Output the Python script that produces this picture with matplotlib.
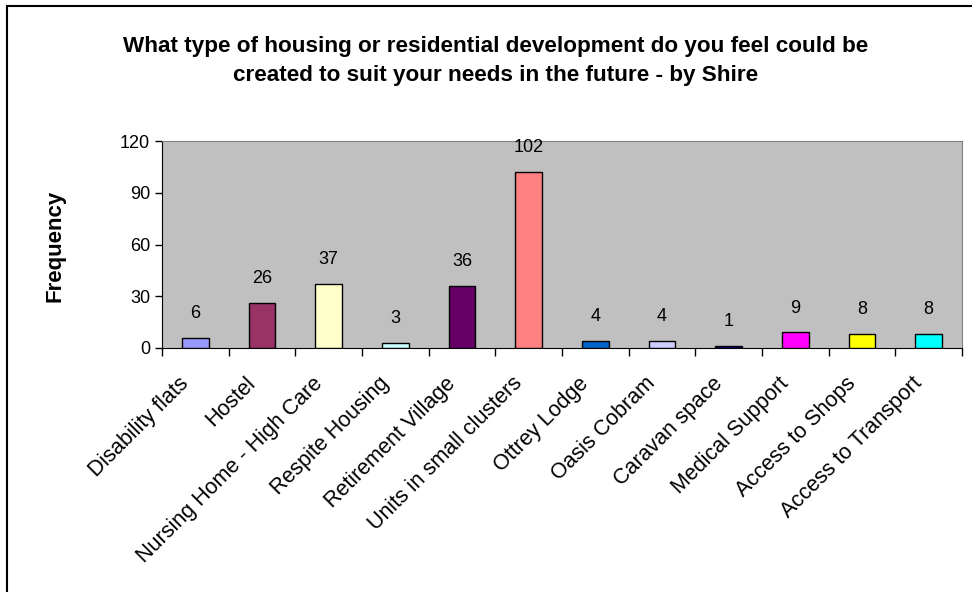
import matplotlib.pyplot as plt
import numpy as np
from matplotlib.patches import Rectangle
from matplotlib.transforms import ScaledTranslation

plt.rcParams["font.family"] = ["Liberation Sans", "DejaVu Sans"]

# ------------------------------------------------------------
# Survey responses
# ------------------------------------------------------------

categories = [
    "Disability flats",
    "Hostel",
    "Nursing Home - High Care",
    "Respite Housing",
    "Retirement Village",
    "Units in small clusters",
    "Ottrey Lodge",
    "Oasis Cobram",
    "Caravan space",
    "Medical Support",
    "Access to Shops",
    "Access to Transport",
]

frequency = [6, 26, 37, 3, 36, 102, 4, 4, 1, 9, 8, 8]

bar_colors = [
    "#9999FF", "#993366", "#FFFFCC", "#CCFFFF", "#660066", "#FF8080",
    "#0066CC", "#CCCCFF", "#000080", "#FF00FF", "#FFFF00", "#00FFFF",
]

y_ticks = [0, 30, 60, 90, 120]

title = ("What type of housing or residential development do you feel could be\n"
         "created to suit your needs in the future - by Shire")

# ------------------------------------------------------------
# Figure
# ------------------------------------------------------------

fig = plt.figure(figsize=(9.72, 5.92), dpi=100)
fig.patch.set_facecolor("white")

# outer chart border (runs off the right and bottom edges)
fig.add_artist(Rectangle((7 / 972, -20 / 592), 1000 / 972, 606 / 592,
                         transform=fig.transFigure, fill=False,
                         edgecolor="black", linewidth=1.5))

ax = fig.add_axes([162 / 972, 1 - 348 / 592, 800 / 972, 207 / 592])
ax.set_facecolor("#C0C0C0")

x = np.arange(len(categories))
ax.bar(x, frequency, width=0.4, color=bar_colors,
       edgecolor="black", linewidth=1.0, zorder=3)

for xi, v in zip(x, frequency):
    ax.annotate(str(v), (xi, v), xytext=(0, 17.5), textcoords="offset points",
                ha="center", va="center", fontsize=13)

ax.set_xlim(-0.5, len(categories) - 0.5)
ax.set_ylim(0, 120)
ax.set_yticks(y_ticks)
ax.tick_params(axis="y", labelsize=13, length=5, direction="out", width=1)

# category ticks sit on the boundaries, labels sit under the bars
ax.set_xticks(np.arange(len(categories) + 1) - 0.5)
ax.set_xticklabels([])
ax.tick_params(axis="x", which="major", length=6, direction="out", width=1)
ax.set_xticks(x, minor=True)
ax.set_xticklabels(categories, minor=True, rotation=45, ha="right",
                   rotation_mode="anchor", fontsize=15.5)
ax.tick_params(axis="x", which="minor", length=0, pad=18)

# nudge the slanted labels a little to the left
shift = ScaledTranslation(-17 / 100, 0, fig.dpi_scale_trans)
for lbl in ax.get_xticklabels(minor=True):
    lbl.set_transform(lbl.get_transform() + shift)

for side in ["top", "right"]:
    ax.spines[side].set_color("#808080")
for side in ["left", "bottom"]:
    ax.spines[side].set_color("black")

fig.text(55 / 972, 1 - 246 / 592, "Frequency", rotation=90,
         ha="center", va="center", fontsize=16, fontweight="bold")

fig.text(496 / 972, 1 - 61 / 592, title, ha="center", va="center",
         fontsize=16.2, fontweight="bold", linespacing=1.5)

fig.savefig("out.png", dpi=100)
